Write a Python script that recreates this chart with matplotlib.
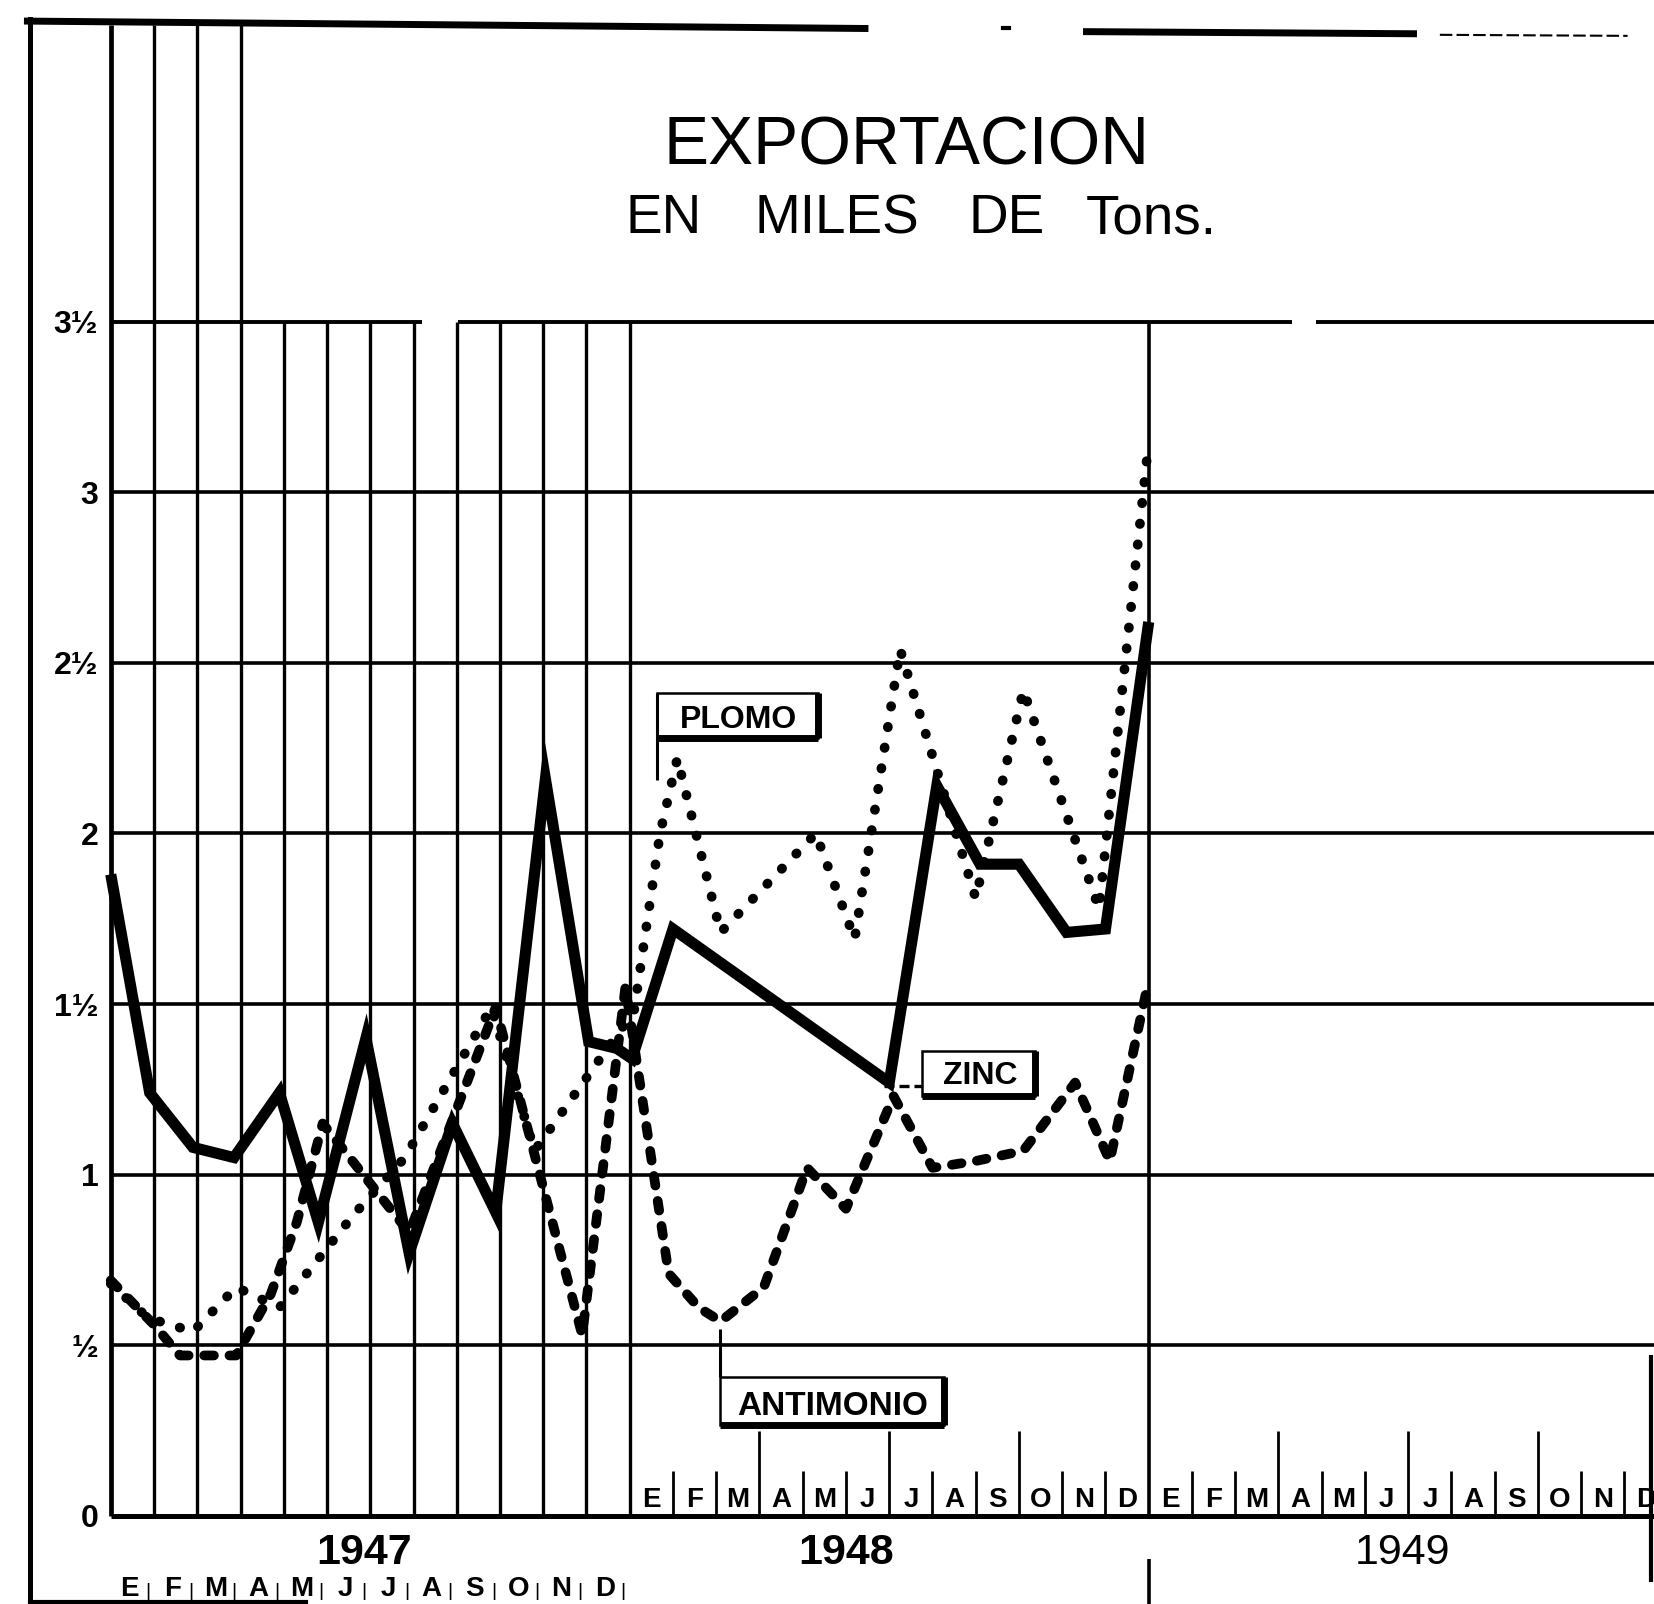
import matplotlib
matplotlib.use("Agg")
import matplotlib.pyplot as plt
from matplotlib import font_manager as fm
from matplotlib.patches import Rectangle
from matplotlib.lines import Line2D

# ---------------- data ----------------
meses = ['E', 'F', 'M', 'A', 'M', 'J', 'J', 'A', 'S', 'O', 'N', 'D']
anios = ['1947', '1948', '1949']
titulo = 'EXPORTACION'
subtitulo = ['EN', 'MILES', 'DE', 'Tons.']
y_ticks = [0, 0.5, 1, 1.5, 2, 2.5, 3, 3.5]
y_tick_labels = ['0', '½', '1', '1½', '2', '2½', '3', '3½']

# x = month index counted from January 1947 (0), values in thousands of tons
zinc_mes = [0, 0.9, 1.9, 2.85, 3.9, 4.8, 5.9, 6.9, 7.9, 8.9, 10.05, 11.05, 11.7, 12.05,
            13.0, 18.0, 19.1, 20.1, 21.0, 22.1, 23.0, 24.0]
zinc_val = [1.88, 1.24, 1.08, 1.05, 1.24, 0.86, 1.40, 0.77, 1.15, 0.89, 2.16, 1.39, 1.37, 1.34,
            1.72, 1.27, 2.14, 1.91, 1.91, 1.71, 1.72, 2.62]

plomo_mes = [0, 0.86, 1.9, 2.9, 3.9, 5.6, 6.8, 8.8, 9.8, 12.1, 12.7, 13.1, 14.1, 16.3,
             17.2, 18.25, 20.0, 21.1, 22.85, 24.0]
plomo_val = [0.68, 0.58, 0.54, 0.67, 0.61, 0.88, 1.05, 1.49, 1.07, 1.48, 2.00, 2.22, 1.71, 2.00,
             1.69, 2.54, 1.81, 2.42, 1.78, 3.15]

antimonio_mes = [0, 1.0, 1.6, 2.9, 3.7, 4.3, 4.9, 6.9, 8.9, 10.9, 11.9, 12.9, 13.6, 14.1,
                 15.1, 16.1, 17.0, 18.1, 19.0, 20.0, 21.1, 22.3, 23.1, 24.0]
antimonio_val = [0.69, 0.56, 0.47, 0.47, 0.65, 0.86, 1.15, 0.83, 1.49, 0.53, 1.55, 0.71, 0.61, 0.57,
                 0.67, 1.02, 0.90, 1.23, 1.02, 1.04, 1.07, 1.27, 1.04, 1.57]

# ---------------- fonts ----------------
names = {f.name for f in fm.fontManager.ttflist}
SANS = 'Liberation Sans' if 'Liberation Sans' in names else 'DejaVu Sans'
NARROW = 'Liberation Sans Narrow' if 'Liberation Sans Narrow' in names else SANS
nf = 1.0 if NARROW.endswith('Narrow') else 0.84

# ---------------- layout helpers ----------------
W, H, DPI = 1654, 1604, 100
S = W / 1568.0
fig = plt.figure(figsize=(W / DPI, H / DPI), dpi=DPI)
fig.patch.set_facecolor('white')


def fxp(x):
    return x * S / W


def fyp(y):
    return 1 - y * S / H


X0, DX, Y0, Y35 = 105.0, 41.0, 1437.0, 305.0
XR = (1568 - X0) / DX
PPV = (Y0 - Y35) / 3.5


def mx(x):
    return (x - X0) / DX


def vy(y):
    return (Y0 - y) / PPV


ax = fig.add_axes([fxp(X0), fyp(Y0), 1 - fxp(X0), fyp(Y35) - fyp(Y0)])
ax.set_xlim(0, XR)
ax.set_ylim(0, 3.5)
ax.patch.set_alpha(0)
for s in ax.spines.values():
    s.set_visible(False)
ax.set_xticks([])
ax.set_yticks(y_ticks)
ax.set_yticklabels(y_tick_labels, fontsize=23, fontweight='bold', family=SANS)
ax.tick_params(axis='y', length=0, pad=9)

K = dict(color='black', clip_on=False, solid_capstyle='butt')

# ---------------- grid ----------------
V_TOP = vy(24)
for m in range(13):
    top = V_TOP if m <= 3 else 3.5
    ax.plot([m, m], [0, top], lw=3.4 if m == 0 else 2.4, **K)
ax.plot([24, 24], [0, 3.5], lw=2.6, **K)
ax.plot([24, 24], [vy(1478), vy(1522)], lw=2.6, **K)
ax.plot([XR - 0.08, XR - 0.08], [vy(1500), vy(1285)], lw=3.0, **K)
for v in y_ticks[1:-1]:
    ax.plot([0, XR], [v, v], lw=2.6, **K)
for a, b in [(0, mx(400)), (mx(434), mx(1225)), (mx(1248), XR)]:
    ax.plot([a, b], [3.5, 3.5], lw=2.8, **K)
ax.plot([0, XR], [0, 0], lw=3.6, **K)

# month cells for 1948 / 1949
for m in range(13, 36):
    if m == 24:
        continue
    h = 0.25 if (m - 12) % 3 == 0 else 0.13
    ax.plot([m, m], [0, h], lw=2.0, **K)
for i in range(24):
    ax.text(12 + i + 0.5, 0.025, meses[i % 12], ha='center', va='baseline',
            fontsize=20, fontweight='bold', family=SANS)

# month row for 1947 (below the axis)
for i in range(12):
    ax.text(i + 0.42, vy(1513), meses[i], ha='center', va='baseline',
            fontsize=20, fontweight='bold', family=SANS, clip_on=False)
    ax.text(i + 0.85, vy(1513), '|', ha='center', va='baseline',
            fontsize=14, family=SANS, clip_on=False)

# year labels
year_x = [mx(345), mx(802), mx(1330)]
for lbl, xc, wgt in zip(anios, year_x, ['bold', 'bold', 'normal']):
    ax.text(xc, vy(1483), lbl, ha='center', va='baseline', fontsize=31,
            fontweight=wgt, family=SANS, clip_on=False)

# ---------------- series ----------------
ax.plot(zinc_mes, zinc_val, color='black', lw=8.0, solid_joinstyle='miter',
        solid_capstyle='butt', zorder=5, clip_on=False)
ax.plot(plomo_mes, plomo_val, color='black', lw=7.0, linestyle=(0, (0.05, 2.1)),
        dash_capstyle='round', zorder=4, clip_on=False)
ax.plot(antimonio_mes, antimonio_val, color='black', lw=7.0, linestyle=(0, (1.0, 1.6)),
        dash_capstyle='round', zorder=4, clip_on=False)


# ---------------- labels ----------------
def caja(x0, x1, y0, y1, texto, tx, ty, fs):
    ax.add_patch(Rectangle((x0, y0), x1 - x0, y1 - y0, fc='white', ec='black',
                           lw=1.8, clip_on=False, zorder=6))
    ax.plot([x0, x1], [y0, y0], lw=5, zorder=7, **K)
    ax.plot([x1, x1], [y0, y1], lw=5, zorder=7, **K)
    ax.text(tx, ty, texto, ha='center', va='baseline', fontsize=fs,
            fontweight='bold', family=SANS, zorder=8)


caja(mx(623), mx(775), vy(700), vy(657), 'PLOMO', mx(700), vy(690), 23)
ax.plot([mx(623), mx(623)], [vy(657), vy(739)], lw=2.2, zorder=7, **K)

caja(mx(874), mx(981), vy(1039), vy(996), 'ZINC', mx(929), vy(1028), 23)
ax.plot([mx(838), mx(874)], [vy(1030), vy(1030)], lw=2.4, linestyle=(0, (3, 1.5)),
        zorder=7, color='black', clip_on=False)

caja(mx(683), mx(895), vy(1351), vy(1305), 'ANTIMONIO', mx(789), vy(1341), 24)
ax.plot([mx(683), mx(683)], [vy(1305), vy(1260)], lw=2.2, zorder=7, **K)


# ---------------- frame & title ----------------
def fline(xs, ys, lw, **kw):
    fig.add_artist(Line2D([fxp(x) for x in xs], [fyp(y) for y in ys],
                          color='black', lw=lw, **kw))


fline([28, 28], [18, 1521], 3.6)
fline([26, 820], [20, 27], 5.0)
fline([951, 957], [27, 27], 3.0)
fline([1030, 1340], [30, 32], 5.0)
fline([1365, 1543], [33, 34], 1.5, linestyle=(0, (6, 2)))
fline([28, 290], [1519, 1519], 3.0)

fig.text(fxp(859), fyp(156), titulo, ha='center', va='baseline',
         fontsize=58 * nf, family=NARROW)
for w, xc in zip(subtitulo, [629, 793, 954, 1091]):
    fig.text(fxp(xc), fyp(221), w, ha='center', va='baseline',
             fontsize=47 * nf, family=NARROW)

fig.savefig('out.png', dpi=DPI, facecolor='white')
